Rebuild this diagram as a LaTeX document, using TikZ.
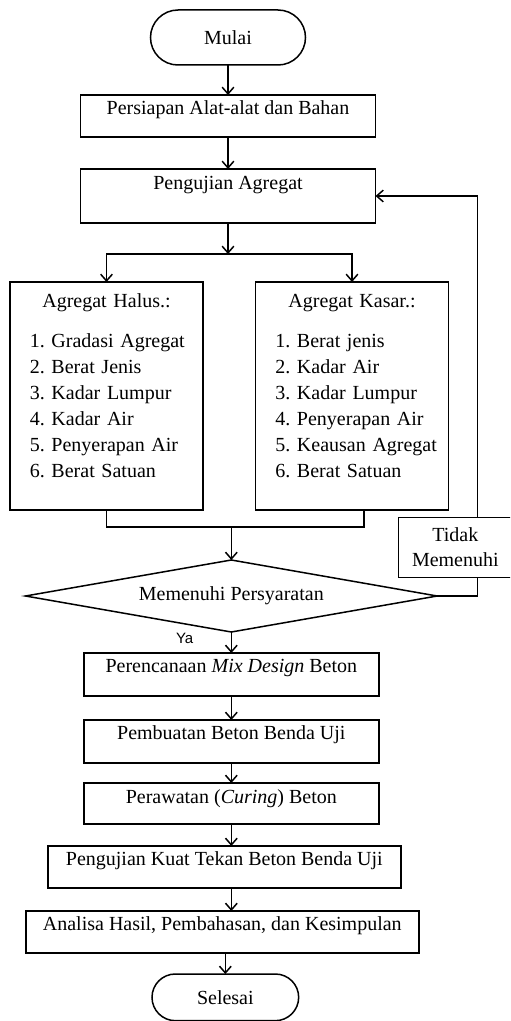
\documentclass[tikz,border=0pt]{standalone}
\usepackage{fontspec}
\setmainfont{Liberation Serif}
\newfontfamily\yafont{Liberation Sans}
\usetikzlibrary{arrows.meta,positioning,shapes.geometric}

\begin{document}
\begin{tikzpicture}[
  line width=0.9pt,
  every node/.style={outer sep=0pt},
  font=\fontsize{12}{15.6}\selectfont,
  box/.style={draw,minimum width=177pt,inner ysep=0pt,
              text height=11.7pt,text depth=13.5pt},
  term/.style={draw,rounded corners=14pt,minimum width=88pt,minimum height=28pt},
  listbox/.style={draw,text width=92pt,inner xsep=12pt,inner ysep=6pt,align=left,
                  minimum height=136.8pt,text height=9pt,text depth=115.8pt,
                  execute at begin node={\hyphenpenalty=10000\relax}},
  side/.style={draw,align=center,minimum width=68.4pt,minimum height=36pt,
               font=\fontsize{12}{15}\selectfont},
  dec/.style={draw,diamond,aspect=5.7,minimum width=247pt,minimum height=43.2pt,
              inner sep=0pt},
  arr/.style={-{Straight Barb[length=4pt,width=7pt]}},
  lbl/.style={font=\yafont\fontsize{9}{10}\selectfont,inner sep=0pt}]
\useasboundingbox (-136.8pt,22.5pt) rectangle (169.2pt,-590.1pt);
\clip (-136.8pt,22.5pt) rectangle (169.2pt,-590.1pt);
\node[term,minimum width=93pt,minimum height=33pt,rounded corners=16.5pt] (mulai) at (0,0) {Mulai};
\node[box,below=18pt of mulai] (siap) {Persiapan Alat-alat dan Bahan};
\node[box,below=19.2pt of siap,text height=12pt,text depth=20.4pt] (uji) {Pengujian Agregat};
\node[listbox,below=35.4pt of uji,xshift=-72.9pt] (halus) {{\centering Agregat Halus.:\par}\vspace{8.4pt}
  1.~Gradasi~Agregat\\2.~Berat~Jenis\\3.~Kadar~Lumpur\\4.~Kadar~Air\\5.~Penyerapan~Air\\6.~Berat~Satuan};
\node[listbox,below=35.4pt of uji,xshift=74.4pt] (kasar) {{\centering Agregat Kasar.:\par}\vspace{8.4pt}
  1.~Berat~jenis\\2.~Kadar~Air\\3.~Kadar~Lumpur\\4.~Penyerapan~Air\\5.~Keausan~Agregat\\6.~Berat~Satuan};
\node[dec,below=30pt,xshift=2pt] (cek) at (uji |- halus.south) {Memenuhi Persyaratan};
\node[side,xshift=134.4pt,yshift=29.1pt] (tidak) at (cek) {Tidak\\Memenuhi};
\node[lbl,anchor=north east] (ya) at ([xshift=-22.8pt,yshift=-0.5pt]cek.south) {Ya};
\node[box,below=12.6pt of cek,text depth=14.1pt] (rencana) {Perencanaan \textit{Mix Design} Beton};
\node[box,below=14.4pt of rencana,text depth=14.1pt] (buat) {Pembuatan Beton Benda Uji};
\node[box,below=12pt of buat,text height=12pt,text depth=12.6pt] (rawat) {Perawatan (\textit{Curing}) Beton};
\node[box,below=13.2pt of rawat,xshift=-4.2pt,minimum width=211.8pt] (kuat) {Pengujian Kuat Tekan Beton Benda Uji};
\node[box,below=13.8pt of kuat,xshift=-1.2pt,minimum width=235.8pt] (analisa) {Analisa Hasil, Pembahasan, dan Kesimpulan};
\node[term,below=12.6pt of analisa,xshift=1.8pt] (selesai) {Selesai};
\draw[arr] (mulai) -- (siap);
\draw[arr] (siap) -- (uji);
\coordinate (cabang) at ([yshift=-18.6pt]uji.south);
\draw[arr] (uji) -- (cabang);
\draw[arr] (cabang) -| (halus);
\draw[arr] (cabang) -| (kasar);
\coordinate (gabung) at ([yshift=-10.2pt]halus.south);
\draw (halus) -- (gabung) -| ([xshift=7.2pt]kasar.south);
\draw[arr] (cek.north |- gabung) -- (cek);
\draw (cek.east) -| ([xshift=13.2pt]tidak.south);
\draw[arr] ([xshift=13.2pt]tidak.north) |- (uji.east);
\draw[arr] (cek) -- (rencana);
\draw[arr] (rencana) -- (buat);
\draw[arr] (buat) -- (rawat);
\draw[arr] (rawat) -- (rawat |- kuat.north);
\draw[arr] (kuat.south -| rawat) -- (rawat |- analisa.north);
\draw[arr] (analisa.south -| selesai) -- (selesai);
\end{tikzpicture}
\end{document}
